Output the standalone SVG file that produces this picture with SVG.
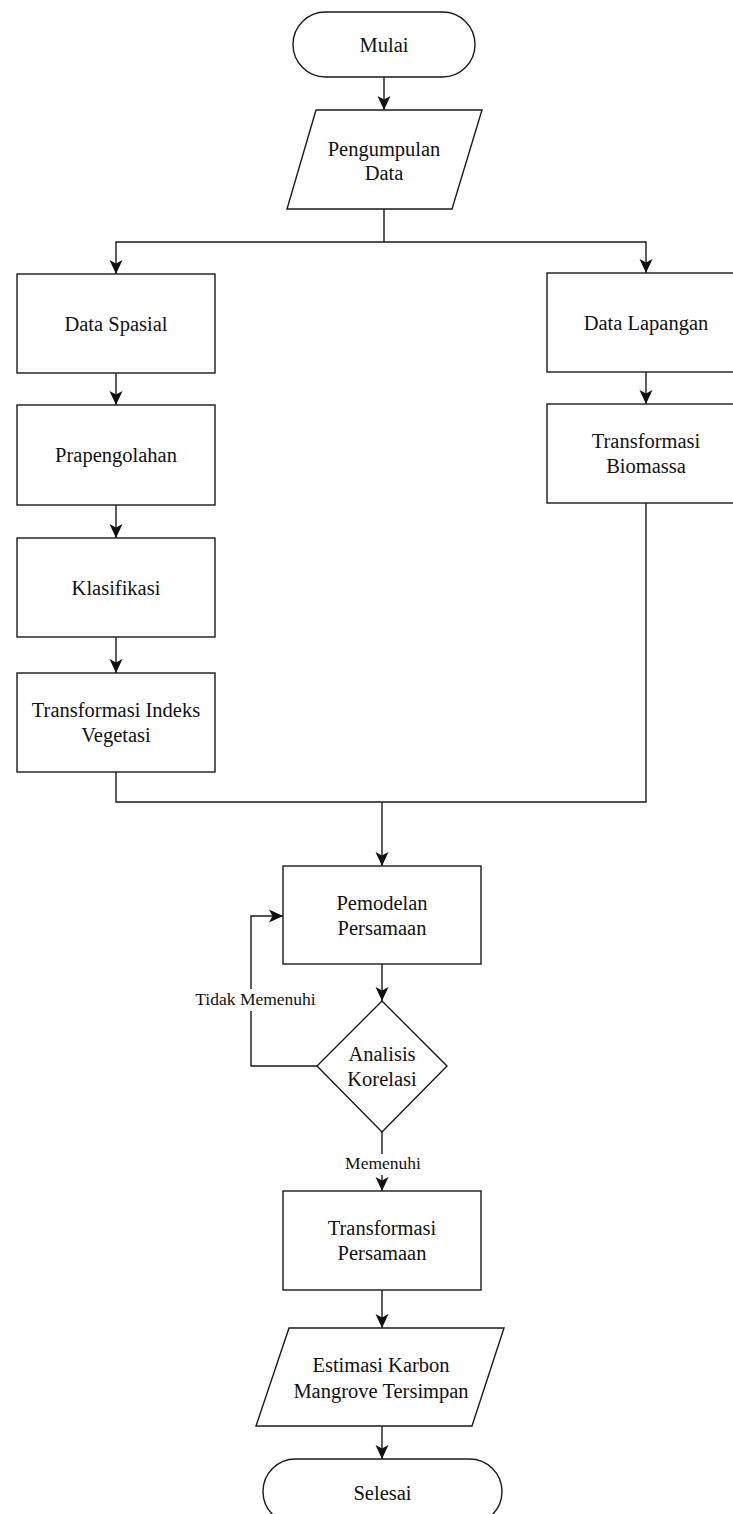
<svg xmlns="http://www.w3.org/2000/svg" width="733" height="1514" viewBox="0 0 733 1514">
<style>
.s{fill:#fff;stroke:#1a1a1a;stroke-width:1.4}
.t{font-family:"Liberation Serif","Times New Roman",serif;font-size:20.5px;fill:#111;text-anchor:middle}
.l{font-family:"Liberation Serif","Times New Roman",serif;font-size:17.5px;fill:#111;text-anchor:middle}
.c{fill:none;stroke:#1a1a1a;stroke-width:1.4}
</style>
<defs>
<marker id="a" markerWidth="16" markerHeight="16" viewBox="0 0 16 16" refX="15" refY="8" orient="auto" markerUnits="userSpaceOnUse">
<path d="M1,1.5 L15,8 L1,14.5 L4.5,8 Z" fill="#111"/>
</marker>
</defs>
<rect width="733" height="1514" fill="#fff"/>
<g id="connectors">
<path class="c" d="M384,77 V110" marker-end="url(#a)"/>
<path class="c" d="M384,209 V242 H116 V274" marker-end="url(#a)"/>
<path class="c" d="M384,242 H646 V273" marker-end="url(#a)"/>
<path class="c" d="M116,373 V405" marker-end="url(#a)"/>
<path class="c" d="M116,505 V538" marker-end="url(#a)"/>
<path class="c" d="M116,637 V673" marker-end="url(#a)"/>
<path class="c" d="M646,372 V404" marker-end="url(#a)"/>
<path class="c" d="M116,772 V802 H646 V503"/>
<path class="c" d="M382,802 V866" marker-end="url(#a)"/>
<path class="c" d="M382,964 V1001" marker-end="url(#a)"/>
<path class="c" d="M317,1066 H251 V916 H283" marker-end="url(#a)"/>
<path class="c" d="M382,1132 V1191" marker-end="url(#a)"/>
<path class="c" d="M382,1290 V1328" marker-end="url(#a)"/>
<path class="c" d="M382,1426 V1459" marker-end="url(#a)"/>
<rect x="190" y="989" width="131" height="22" fill="#fff"/>
<text class="l" x="255.5" y="1005">Tidak Memenuhi</text>
<rect x="342" y="1154" width="82" height="21" fill="#fff"/>
<text class="l" x="383" y="1169">Memenuhi</text>
</g>
<g id="mulai"><rect class="s" x="293" y="12" width="182" height="65" rx="32.5"/><text class="t" x="384" y="52">Mulai</text></g>
<g id="pengumpulan"><polygon class="s" points="316,110 482,110 452,209 287,209"/><text class="t" x="384" y="156">Pengumpulan</text><text class="t" x="384" y="180">Data</text></g>
<g id="data-spasial"><rect class="s" x="17" y="274" width="198" height="99"/><text class="t" x="116" y="331">Data Spasial</text></g>
<g id="prapengolahan"><rect class="s" x="17" y="405" width="198" height="100"/><text class="t" x="116" y="462">Prapengolahan</text></g>
<g id="klasifikasi"><rect class="s" x="17" y="538" width="198" height="99"/><text class="t" x="116" y="595">Klasifikasi</text></g>
<g id="transformasi-indeks"><rect class="s" x="17" y="673" width="198" height="99"/><text class="t" x="116" y="717">Transformasi Indeks</text><text class="t" x="116" y="742">Vegetasi</text></g>
<g id="data-lapangan"><rect class="s" x="547" y="273" width="198" height="99"/><text class="t" x="646" y="330">Data Lapangan</text></g>
<g id="transformasi-biomassa"><rect class="s" x="547" y="404" width="198" height="99"/><text class="t" x="646" y="448">Transformasi</text><text class="t" x="646" y="473">Biomassa</text></g>
<g id="pemodelan"><rect class="s" x="283" y="866" width="198" height="98"/><text class="t" x="382" y="910">Pemodelan</text><text class="t" x="382" y="935">Persamaan</text></g>
<g id="analisis"><polygon class="s" points="382,1001 447,1066 382,1132 317,1066"/><text class="t" x="382" y="1061">Analisis</text><text class="t" x="382" y="1086">Korelasi</text></g>
<g id="transformasi-persamaan"><rect class="s" x="283" y="1191" width="198" height="99"/><text class="t" x="382" y="1235">Transformasi</text><text class="t" x="382" y="1260">Persamaan</text></g>
<g id="estimasi"><polygon class="s" points="289,1328 504,1328 472,1426 256,1426"/><text class="t" x="381" y="1372">Estimasi Karbon</text><text class="t" x="381" y="1398">Mangrove Tersimpan</text></g>
<g id="selesai"><rect class="s" x="263" y="1459" width="239" height="65" rx="32.5"/><text class="t" x="382.5" y="1500">Selesai</text></g>
</svg>
